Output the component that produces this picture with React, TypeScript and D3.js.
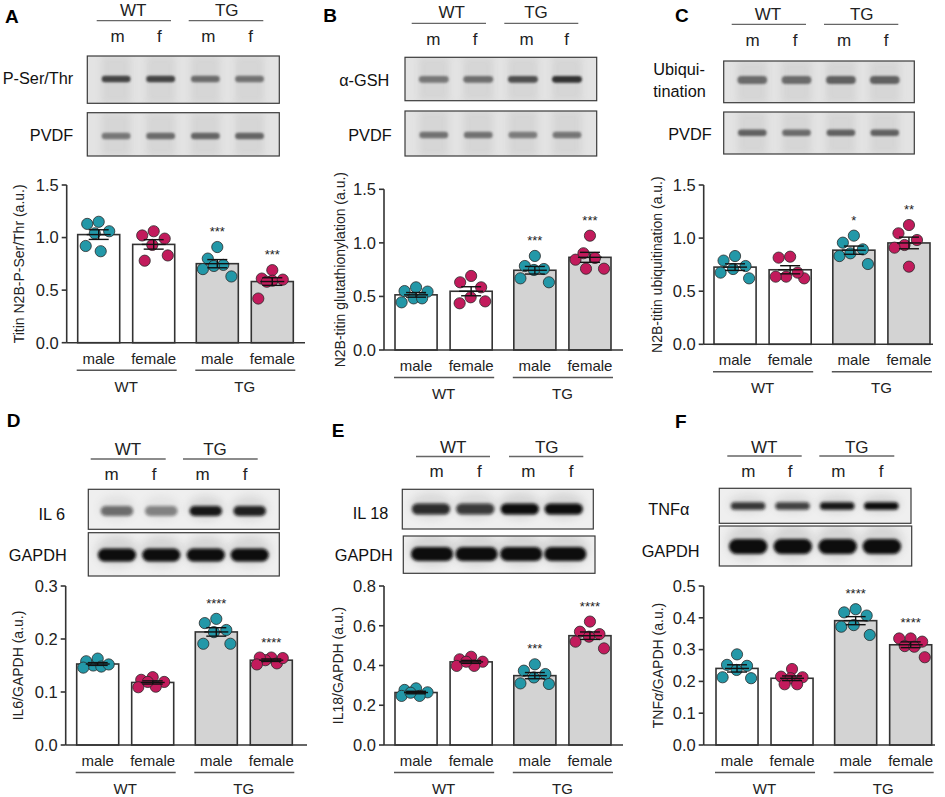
import React from 'react';
import * as d3 from 'd3';

// ---------------- DATA ----------------
const groupLabels = ['WT', 'TG'];
const sexLabels = ['male', 'female'];
const laneLabels = ['m', 'f', 'm', 'f'];

// A: Titin N2B-P-Ser/Thr (a.u.)
const aWTmale = [1.15, 1.06, 1.13, 0.87, 0.92, 1.04];
const aWTfemale = [0.99, 1.06, 1.02, 0.93, 0.78, 0.83];
const aTGmale = [0.91, 0.8, 0.74, 0.73, 0.63, 0.7];
const aTGfemale = [0.61, 0.69, 0.59, 0.6, 0.58, 0.42];
const aStars = ['', '', '***', '***'];
const aTicks = [0, 0.5, 1.0, 1.5];

// B: N2B-titin glutathionylation (a.u.)
const bWTmale = [0.55, 0.585, 0.545, 0.482, 0.445, 0.482];
const bWTfemale = [0.632, 0.691, 0.585, 0.492, 0.436, 0.454];
const bTGmale = [0.878, 0.756, 0.784, 0.747, 0.632, 0.669];
const bTGfemale = [1.067, 0.843, 0.903, 0.859, 0.759, 0.759];
const bStars = ['', '', '***', '***'];
const bTicks = [0, 0.5, 1.0, 1.5];

// C: N2B-titin ubiquitination (a.u.)
const cWTmale = [0.788, 0.737, 0.831, 0.709, 0.621, 0.675];
const cWTfemale = [0.825, 0.816, 0.621, 0.637, 0.637, 0.675];
const cTGmale = [1.023, 0.957, 0.894, 0.857, 0.831, 0.756];
const cTGfemale = [1.123, 1.045, 0.982, 0.935, 0.91, 0.731];
const cStars = ['', '', '*', '**'];
const cTicks = [0, 0.5, 1.0, 1.5];

// D: IL6/GAPDH (a.u.)
const dWTmale = [0.15, 0.158, 0.163, 0.146, 0.148, 0.152];
const dWTfemale = [0.119, 0.123, 0.128, 0.109, 0.11, 0.119];
const dTGmale = [0.217, 0.238, 0.23, 0.213, 0.191, 0.191];
const dTGfemale = [0.165, 0.16, 0.165, 0.154, 0.164, 0.152];
const dStars = ['', '', '****', '****'];
const dTicks = [0, 0.1, 0.2, 0.3];

// E: IL18/GAPDH (a.u.)
const eWTmale = [0.265, 0.277, 0.285, 0.247, 0.247, 0.263];
const eWTfemale = [0.419, 0.431, 0.444, 0.398, 0.398, 0.419];
const eTGmale = [0.406, 0.374, 0.34, 0.357, 0.307, 0.31];
const eTGfemale = [0.621, 0.558, 0.57, 0.545, 0.52, 0.486];
const eStars = ['', '', '***', '****'];
const eTicks = [0, 0.2, 0.4, 0.6, 0.8];

// F: TNFα/GAPDH (a.u.)
const fWTmale = [0.252, 0.285, 0.236, 0.249, 0.21, 0.213];
const fWTfemale = [0.215, 0.239, 0.21, 0.213, 0.191, 0.191];
const fTGmale = [0.417, 0.427, 0.407, 0.377, 0.372, 0.346];
const fTGfemale = [0.335, 0.335, 0.325, 0.311, 0.309, 0.276];
const fStars = ['', '', '****', '****'];
const fTicks = [0, 0.1, 0.2, 0.3, 0.4, 0.5];

// blot band intensities (lanes m, f, m, f)
const aBand1 = [0.85, 0.85, 0.62, 0.58];
const aBand2 = [0.55, 0.62, 0.66, 0.66];
const bBand1 = [0.55, 0.6, 0.78, 0.95];
const bBand2 = [0.58, 0.58, 0.52, 0.56];
const cBand1 = [0.62, 0.62, 0.68, 0.68];
const cBand2 = [0.68, 0.62, 0.68, 0.68];
const dBand1 = [0.55, 0.45, 0.95, 0.9];
const dBand2 = [1, 1, 1, 1];
const eBand1 = [0.85, 0.78, 1, 1];
const eBand2 = [1, 1, 1, 1];
const fBand1 = [0.8, 0.75, 0.95, 1];
const fBand2 = [1, 1, 1, 1];

// ---------------- LAYOUT / STYLE ----------------
const FONT = '"Liberation Sans", Arial, Helvetica, sans-serif';
const TEAL = '#2398a8';
const MAGENTA = '#c21b5c';

type BlotCfg = { box: number[]; bandY: number; ry: number; rxF: number; vals: number[]; kind: 'mem' | 'ecl' };
type LabelCfg = { text: string; x: number; y: number; anchor: 'start' | 'end' };
type PanelCfg = {
  letter: string; lx: number; ly: number;
  wtX: number; tgX: number; hBase: number; ulY: number; wtUL: number[]; tgUL: number[]; mBase: number; laneX: number[];
  blots: BlotCfg[]; labels: LabelCfg[];
  axisX: number; axisEnd: number; y0: number; yTop: number; ticks: number[]; bars: number[]; ylx: number;
  ylabel: React.ReactNode; values: number[][]; stars: string[];
};

const panels: PanelCfg[] = [
  {
    letter: 'A', lx: 5, ly: 23.3,
    wtX: 133.3, tgX: 226.7, hBase: 15.5, ulY: 20.7, wtUL: [96.7, 171], tgUL: [188.7, 263.3], mBase: 41.7,
    laneX: [117.7, 159.3, 208.3, 250.7],
    blots: [
      { box: [87.3, 56, 279.3, 103.3], bandY: 79, ry: 3.2, rxF: 0.075, vals: aBand1, kind: 'mem' },
      { box: [87.3, 112.7, 279.3, 156], bandY: 136, ry: 3.2, rxF: 0.075, vals: aBand2, kind: 'mem' },
    ],
    labels: [
      { text: 'P-Ser/Thr', x: 73.3, y: 84, anchor: 'end' },
      { text: 'PVDF', x: 73.3, y: 141, anchor: 'end' },
    ],
    axisX: 66.7, axisEnd: 305, y0: 342.7, yTop: 185, ticks: aTicks, bars: [77.7, 293.3], ylx: 19,
    ylabel: 'Titin N2B-P-Ser/Thr (a.u.)', values: [aWTmale, aWTfemale, aTGmale, aTGfemale], stars: aStars,
  },
  {
    letter: 'B', lx: 323.3, ly: 21.7,
    wtX: 451.7, tgX: 536, hBase: 18.3, ulY: 23.3, wtUL: [411.7, 486], tgUL: [504.3, 578.3], mBase: 45,
    laneX: [433.3, 475, 526.7, 566.7],
    blots: [
      { box: [405, 57.3, 596.7, 100.7], bandY: 79.3, ry: 3.4, rxF: 0.078, vals: bBand1, kind: 'mem' },
      { box: [405, 111, 596.7, 156], bandY: 135, ry: 3.2, rxF: 0.075, vals: bBand2, kind: 'mem' },
    ],
    labels: [
      { text: 'α-GSH', x: 389.3, y: 86, anchor: 'end' },
      { text: 'PVDF', x: 391.7, y: 141, anchor: 'end' },
    ],
    axisX: 384, axisEnd: 623, y0: 350, yTop: 189.3, ticks: bTicks, bars: [395, 611], ylx: 340,
    ylabel: 'N2B-titin glutathionylation (a.u.)', values: [bWTmale, bWTfemale, bTGmale, bTGfemale], stars: bStars,
  },
  {
    letter: 'C', lx: 675, ly: 21.7,
    wtX: 768, tgX: 861.7, hBase: 20, ulY: 24.3, wtUL: [731.7, 806], tgUL: [824, 898.3], mBase: 45.7,
    laneX: [752.7, 795, 844, 886],
    blots: [
      { box: [723.7, 61, 914.3, 102.7], bandY: 80, ry: 4, rxF: 0.078, vals: cBand1, kind: 'mem' },
      { box: [723.7, 112, 914.3, 154], bandY: 132.7, ry: 3.2, rxF: 0.075, vals: cBand2, kind: 'mem' },
    ],
    labels: [
      { text: 'Ubiqui-', x: 653.3, y: 74.5, anchor: 'start' },
      { text: 'tination', x: 653.3, y: 96.5, anchor: 'start' },
      { text: 'PVDF', x: 711.7, y: 140, anchor: 'end' },
    ],
    axisX: 703.7, axisEnd: 933, y0: 344.3, yTop: 185, ticks: cTicks, bars: [714, 930], ylx: 657,
    ylabel: 'N2B-titin ubiquitination (a.u.)', values: [cWTmale, cWTfemale, cTGmale, cTGfemale], stars: cStars,
  },
  {
    letter: 'D', lx: 6.7, ly: 426.7,
    wtX: 128, tgX: 215, hBase: 455, ulY: 459, wtUL: [90.7, 165.7], tgUL: [183, 257.7], mBase: 480,
    laneX: [111.7, 154, 202.7, 245],
    blots: [
      { box: [88.3, 489.3, 279.3, 529.3], bandY: 511, ry: 5, rxF: 0.085, vals: dBand1, kind: 'ecl' },
      { box: [88.3, 532.7, 279.3, 576], bandY: 555, ry: 6.5, rxF: 0.1, vals: dBand2, kind: 'ecl' },
    ],
    labels: [
      { text: 'IL 6', x: 65, y: 520, anchor: 'end' },
      { text: 'GAPDH', x: 66.7, y: 561, anchor: 'end' },
    ],
    axisX: 65.7, axisEnd: 307, y0: 745, yTop: 586, ticks: dTicks, bars: [76.7, 292.3], ylx: 18.3,
    ylabel: 'IL6/GAPDH (a.u.)', values: [dWTmale, dWTfemale, dTGmale, dTGfemale], stars: dStars,
  },
  {
    letter: 'E', lx: 331.7, ly: 436.7,
    wtX: 453.3, tgX: 546.7, hBase: 453.3, ulY: 456.5, wtUL: [416, 490], tgUL: [509, 583.3], mBase: 477.3,
    laneX: [436.7, 479.3, 528.3, 571],
    blots: [
      { box: [402.3, 489.3, 593.3, 529], bandY: 509, ry: 5.5, rxF: 0.1, vals: eBand1, kind: 'ecl' },
      { box: [403.3, 536, 595, 573.3], bandY: 554, ry: 7, rxF: 0.11, vals: eBand2, kind: 'ecl' },
    ],
    labels: [
      { text: 'IL 18', x: 388.3, y: 519.3, anchor: 'end' },
      { text: 'GAPDH', x: 392.7, y: 560.7, anchor: 'end' },
    ],
    axisX: 384, axisEnd: 623, y0: 745, yTop: 586, ticks: eTicks, bars: [395, 611], ylx: 338,
    ylabel: 'IL18/GAPDH (a.u.)', values: [eWTmale, eWTfemale, eTGmale, eTGfemale], stars: eStars,
  },
  {
    letter: 'F', lx: 675, ly: 428.3,
    wtX: 764.3, tgX: 856.7, hBase: 452.7, ulY: 456, wtUL: [727.3, 801.7], tgUL: [819.3, 894.3], mBase: 477.3,
    laneX: [748.3, 790, 838.3, 881],
    blots: [
      { box: [719.3, 488.3, 911, 523.3], bandY: 506, ry: 3.8, rxF: 0.09, vals: fBand1, kind: 'ecl' },
      { box: [719.3, 526, 911.7, 566], bandY: 546.5, ry: 7.5, rxF: 0.1, vals: fBand2, kind: 'ecl' },
    ],
    labels: [
      { text: 'TNFα', x: 648.3, y: 515, anchor: 'start' },
      { text: 'GAPDH', x: 641.7, y: 556.7, anchor: 'start' },
    ],
    axisX: 703.7, axisEnd: 935, y0: 745, yTop: 586, ticks: fTicks, bars: [716, 931.7], ylx: 658.3,
    ylabel: (
      <>
        TNF<tspan fontStyle="italic">α</tspan>/GAPDH (a.u.)
      </>
    ),
    values: [fWTmale, fWTfemale, fTGmale, fTGfemale], stars: fStars,
  },
];

const laneFrac = [0.15, 0.382, 0.615, 0.845];
const R = 5.6;

function swarm(values: number[], y: (v: number) => number, r: number, maxOff: number) {
  const order = d3.range(values.length).sort((a, b) => values[b] - values[a]);
  const placed: { x: number; y: number }[] = [];
  const out = new Array(values.length).fill(0);
  const minD = 2 * r * 1.02;
  const wy = 0.55;
  for (const i of order) {
    const py = y(values[i]);
    let best = 0;
    let found = false;
    for (let k = 0; k < 400; k++) {
      const off = (k % 2 === 0 ? 1 : -1) * Math.ceil(k / 2) * 0.5;
      if (Math.abs(off) > maxOff) break;
      if (placed.every((p) => (p.x - off) ** 2 + ((p.y - py) * wy) ** 2 >= minD * minD)) {
        best = off;
        found = true;
        break;
      }
    }
    if (!found) {
      // fall back to the least-overlapping position within the bar
      let bestScore = -Infinity;
      for (let off = -maxOff; off <= maxOff; off += 0.5) {
        const s = d3.min(placed, (p) => Math.hypot(p.x - off, p.y - py)) ?? 0;
        if (s > bestScore) { bestScore = s; best = off; }
      }
    }
    placed.push({ x: best, y: py });
    out[i] = best;
  }
  return out;
}

function Blot({ b, id }: { b: BlotCfg; id: string }) {
  const [x0, y0, x1, y1] = b.box;
  const w = x1 - x0;
  const h = y1 - y0;
  const mem = b.kind === 'mem';
  return (
    <g>
      <defs>
        <clipPath id={id}>
          <rect x={x0} y={y0} width={w} height={h} />
        </clipPath>
      </defs>
      <rect x={x0} y={y0} width={w} height={h} fill={mem ? '#e3e3e3' : '#efefef'} />
      <g clipPath={`url(#${id})`}>
        {mem &&
          laneFrac.map((f, i) => (
            <rect
              key={'s' + i}
              x={x0 + f * w - w * b.rxF}
              y={y0}
              width={w * b.rxF * 2}
              height={h}
              fill="#bdbdbd"
              opacity={0.35}
              filter="url(#blurS)"
            />
          ))}
        {!mem &&
          laneFrac.map((f, i) => (
            <ellipse
              key={'h' + i}
              cx={x0 + f * w}
              cy={b.bandY - b.ry * 0.6}
              rx={w * b.rxF * 1.1}
              ry={b.ry * 2.4}
              fill="#666"
              opacity={0.18 * b.vals[i]}
              filter="url(#blurL)"
            />
          ))}
        {laneFrac.map((f, i) => (
          <rect
            key={'b' + i}
            x={x0 + f * w - w * b.rxF}
            y={b.bandY - b.ry}
            width={w * b.rxF * 2}
            height={b.ry * 2}
            rx={b.ry}
            fill={mem ? '#2a2a2a' : '#0a0a0a'}
            opacity={b.vals[i]}
            filter={mem ? 'url(#blurM)' : 'url(#blurE)'}
          />
        ))}
      </g>
      <rect x={x0} y={y0} width={w} height={h} fill="none" stroke="#3a3a3a" strokeWidth={1.2} />
    </g>
  );
}

function Panel({ p, idx }: { p: PanelCfg; idx: number }) {
  const y = d3.scaleLinear().domain([0, p.ticks[p.ticks.length - 1]]).range([p.y0, p.yTop]);
  const xg = d3.scaleBand().domain(groupLabels).range([p.bars[0], p.bars[1]]).paddingInner(0.182);
  const xs = d3.scaleBand().domain(sexLabels).range([0, xg.bandwidth()]).paddingInner(0.236);
  const bw = xs.bandwidth();
  const cats = groupLabels.flatMap((g) => sexLabels.map((s) => ({ g, s })));
  const fmt = d3.format('.1f');

  return (
    <g>
      <text x={p.lx} y={p.ly} fontSize={19} fontWeight="bold" fontFamily={FONT} fill="#000">
        {p.letter}
      </text>
      {/* header */}
      <g fontFamily={FONT} fontSize={17} fill="#222" textAnchor="middle">
        <text x={p.wtX} y={p.hBase}>WT</text>
        <text x={p.tgX} y={p.hBase}>TG</text>
        {laneLabels.map((l, i) => (
          <text key={i} x={p.laneX[i]} y={p.mBase}>{l}</text>
        ))}
      </g>
      <line x1={p.wtUL[0]} x2={p.wtUL[1]} y1={p.ulY} y2={p.ulY} stroke="#666" strokeWidth={1.3} />
      <line x1={p.tgUL[0]} x2={p.tgUL[1]} y1={p.ulY} y2={p.ulY} stroke="#666" strokeWidth={1.3} />
      {p.blots.map((b, i) => (
        <Blot key={i} b={b} id={`clip-${idx}-${i}`} />
      ))}
      {p.labels.map((l, i) => (
        <text key={i} x={l.x} y={l.y} fontFamily={FONT} fontSize={16.3} fill="#111" textAnchor={l.anchor}>
          {l.text}
        </text>
      ))}

      {/* bars */}
      {cats.map((c, i) => {
        const vals = p.values[i];
        const m = d3.mean(vals) as number;
        const sem = (d3.deviation(vals) as number) / Math.sqrt(vals.length);
        const bx = (xg(c.g) as number) + (xs(c.s) as number);
        const cx = bx + bw / 2;
        const offs = swarm(vals, y, R, bw / 2 - R - 1);
        const color = c.s === 'male' ? TEAL : MAGENTA;
        const top = Math.min(y(d3.max(vals) as number), y(m + sem));
        return (
          <g key={i}>
            <rect
              x={bx}
              y={y(m)}
              width={bw}
              height={p.y0 - y(m)}
              fill={c.g === 'TG' ? '#d3d3d3' : '#ffffff'}
              stroke="#333"
              strokeWidth={1.6}
            />
            {vals.map((v, j) => (
              <circle key={j} cx={cx + offs[j]} cy={y(v)} r={R} fill={color} stroke="#2a2a2a" strokeWidth={0.8} />
            ))}
            <g stroke="#111" strokeWidth={1.4}>
              <line x1={cx} x2={cx} y1={y(m + sem)} y2={y(m - sem)} />
              <line x1={cx - 10} x2={cx + 10} y1={y(m + sem)} y2={y(m + sem)} />
              <line x1={cx - 10} x2={cx + 10} y1={y(m - sem)} y2={y(m - sem)} />
              <line x1={cx - 12} x2={cx + 12} y1={y(m)} y2={y(m)} />
            </g>
            {p.stars[i] && (
              <text x={cx} y={top - 11} textAnchor="middle" fontFamily={FONT} fontSize={13} fill="#222">
                {p.stars[i]}
              </text>
            )}
            <text x={cx} y={p.y0 + 21} textAnchor="middle" fontFamily={FONT} fontSize={15} fill="#222">
              {c.s}
            </text>
          </g>
        );
      })}

      {/* group labels */}
      {groupLabels.map((g) => {
        const gx = xg(g) as number;
        return (
          <g key={g}>
            <line x1={gx - 1} x2={gx + xg.bandwidth() + 2} y1={p.y0 + 27.5} y2={p.y0 + 27.5} stroke="#555" strokeWidth={1.4} />
            <text x={gx + xg.bandwidth() / 2} y={p.y0 + 49} textAnchor="middle" fontFamily={FONT} fontSize={15} fill="#222">
              {g}
            </text>
          </g>
        );
      })}

      {/* axes */}
      <line x1={p.axisX} x2={p.axisX} y1={y.range()[1]} y2={p.y0} stroke="#333" strokeWidth={1.6} />
      <line x1={p.axisX} x2={p.axisEnd} y1={p.y0} y2={p.y0} stroke="#333" strokeWidth={1.6} />
      {p.ticks.map((t) => (
        <g key={t}>
          <line x1={p.axisX - 5} x2={p.axisX} y1={y(t)} y2={y(t)} stroke="#333" strokeWidth={1.6} />
          <text x={p.axisX - 8} y={y(t) + 5.8} textAnchor="end" fontFamily={FONT} fontSize={16.5} fill="#222">
            {fmt(t)}
          </text>
        </g>
      ))}
      <text
        transform={`translate(${p.ylx},${(p.y0 + p.yTop) / 2}) rotate(-90)`}
        y={5}
        textAnchor="middle"
        fontFamily={FONT}
        fontSize={14}
        fill="#222"
      >
        {p.ylabel}
      </text>
    </g>
  );
}

export default function App() {
  return (
    <svg
      width={945}
      height={797}
      viewBox="0 0 945 797"
      style={{ position: 'absolute', left: 0, top: 0, background: '#fff' }}
    >
      <defs>
        <filter id="blurM" x="-50%" y="-100%" width="200%" height="300%">
          <feGaussianBlur stdDeviation="1.3" />
        </filter>
        <filter id="blurS" x="-50%" y="-50%" width="200%" height="200%">
          <feGaussianBlur stdDeviation="3" />
        </filter>
        <filter id="blurE" x="-50%" y="-100%" width="200%" height="300%">
          <feGaussianBlur stdDeviation="1.8" />
        </filter>
        <filter id="blurL" x="-50%" y="-100%" width="200%" height="300%">
          <feGaussianBlur stdDeviation="4" />
        </filter>
      </defs>
      <rect x={0} y={0} width={945} height={797} fill="#fff" />
      {panels.map((p, i) => (
        <Panel key={i} p={p} idx={i} />
      ))}
    </svg>
  );
}
